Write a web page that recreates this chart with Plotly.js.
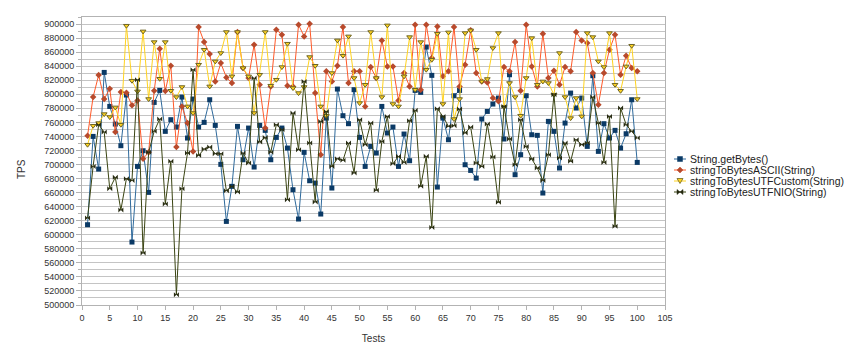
<!DOCTYPE html>
<html><head><meta charset="utf-8">
<script src="https://cdn.plot.ly/plotly-3.0.1.min.js"></script>
<style>html,body{margin:0;padding:0;background:#fff;}#chart{width:847px;height:354px;}</style>
</head><body><div id="chart"></div>
<script>
const tests = [1,2,3,4,5,6,7,8,9,10,11,12,13,14,15,16,17,18,19,20,21,22,23,24,25,26,27,28,29,30,31,32,33,34,35,36,37,38,39,40,41,42,43,44,45,46,47,48,49,50,51,52,53,54,55,56,57,58,59,60,61,62,63,64,65,66,67,68,69,70,71,72,73,74,75,76,77,78,79,80,81,82,83,84,85,86,87,88,89,90,91,92,93,94,95,96,97,98,99,100];

const getBytes = [614300,740000,693500,831100,782700,757600,726800,798900,589600,697300,
719600,660300,788400,805500,747200,763800,753300,796000,737700,793200,
753300,760000,792200,755700,700200,619000,668900,754300,706800,751900,
696400,755700,748600,706800,738600,751900,723400,664100,622400,717300,
676900,673600,629500,766100,666500,807400,769500,758100,806500,738600,
697300,725800,716300,782700,744800,753300,697300,743400,705400,805500,
802700,867200,826900,667900,766100,735300,797900,805500,699700,691600,
680700,764700,775600,786100,794600,736300,827800,685500,714000,797900,
742400,741500,659400,761400,747200,695000,759000,801700,780400,794600,
725800,826400,718700,758100,737700,748600,723400,743800,792200,703000];

const ascii = [741000,796000,827400,793200,807900,746200,803200,802000,784200,791300,
708300,717300,805000,864800,804600,840600,724900,782700,759000,718700,
895700,874300,857200,818300,844400,824000,816000,888600,837300,823100,
870500,813600,751900,811200,891900,884800,812200,811200,899000,882400,
900400,801700,714000,832600,818300,840600,895700,816000,832600,832600,
782700,838700,823100,876700,839700,839700,791300,830200,811200,899000,
806500,899000,851600,896600,825500,832600,895700,811200,842100,891000,
830200,818300,816900,794600,789900,838700,832600,874300,805000,899000,
839700,811200,886200,823100,833500,813600,838700,832600,888600,876700,
872900,830200,785100,830200,863400,884800,827800,854900,837300,832600];

const utfCustom = [728200,755200,759000,771800,767600,781300,756700,897600,819300,804100,
889500,793200,874300,822100,874300,805000,796000,810300,782700,773300,
842100,863400,811200,846800,858700,888600,825500,888600,837300,825500,
773300,827800,888600,812200,820700,838700,872000,808900,801700,810300,
853000,840600,782700,769500,830200,876700,854900,882400,823100,787500,
813600,888600,823100,796000,898100,786100,782700,825500,881400,806500,
874300,835000,849200,886200,786100,888100,764700,793200,887100,891000,
863400,818300,821700,865800,887100,781800,816000,796000,769500,823100,
880000,813600,818300,816000,799400,858700,796000,766100,794600,768500,
887100,881400,846800,838700,887100,813600,805000,839700,869100,793200];

const utfNIO = [623800,697300,756700,746200,665500,681700,635200,679800,677400,820700,
573900,717300,747200,764700,643700,704500,514700,665500,716300,835000,
713000,722000,724900,715400,715400,662700,668900,660800,716300,702100,
823100,732000,738600,717300,756700,749500,649900,773300,721100,818300,
730600,646600,761400,775600,697300,708300,705900,730600,687900,763800,
728200,759000,663200,732900,768500,701100,711600,703000,762400,777100,
668900,711600,610500,779400,768500,754300,755200,779000,744800,753300,
702100,697300,757600,710600,646100,782700,736300,699700,763800,725800,
707800,695000,677400,714000,799400,709200,730600,704500,735300,728200,
730600,796000,759000,703000,768500,612000,780400,756700,747200,737700];

const seriesNames = ['String.getBytes()','stringToBytesASCII(String)','stringToBytesUTFCustom(String)','stringToBytesUTFNIO(String)'];
const yTickVals = [500000,520000,540000,560000,580000,600000,620000,640000,660000,680000,700000,720000,740000,760000,780000,800000,820000,840000,860000,880000,900000];

const W = 847, H = 354, M = {l: 82, r: 182, t: 17, b: 49};
const pw = W - M.l - M.r, ph = H - M.t - M.b;
const PX = p => (p - M.l) / pw;
const PY = p => (M.t + ph - p) / ph;

const styles = [
  {line:'#2f6a9c', mk:'#0b3a66', sym:'square', mline:null},
  {line:'#ff5a2a', mk:'#b84a2c', sym:'diamond', mline:null},
  {line:'#ffd320', mk:'#ffd320', sym:'triangle-down', mline:'#6d6424'},
  {line:'#3a4412', mk:'#262a10', sym:'bowtie', mline:null}
];
const dataSets = [getBytes, ascii, utfCustom, utfNIO];

const traces = dataSets.map((d, k) => ({
  x: tests, y: d, name: seriesNames[k], type: 'scatter', mode: 'lines+markers',
  line: {color: styles[k].line, width: 1},
  marker: {symbol: styles[k].sym, size: 5, color: styles[k].mk,
           line: styles[k].mline ? {color: styles[k].mline, width: 1} : {width: 0}}
}));

// custom compact legend
const shapes = [], annotations = [];
const rowY = [159, 170, 181, 192];
const symX = 680;
function path(pts) { return 'M' + pts.map(p => PX(p[0]) + ',' + PY(p[1])).join(' L') + ' Z'; }
rowY.forEach((y, k) => {
  const s = styles[k];
  shapes.push({type:'line', xref:'paper', yref:'paper', x0: PX(674), x1: PX(686), y0: PY(y), y1: PY(y), line:{color: s.line, width:1}});
  let p;
  if (k === 0) p = path([[symX-2.5,y-2.5],[symX+2.5,y-2.5],[symX+2.5,y+2.5],[symX-2.5,y+2.5]]);
  if (k === 1) p = path([[symX,y-3],[symX+3,y],[symX,y+3],[symX-3,y]]);
  if (k === 2) p = path([[symX-3,y-2.5],[symX+3,y-2.5],[symX,y+2.5]]);
  if (k === 3) p = path([[symX-3,y-2.5],[symX,y],[symX-3,y+2.5]]) + ' ' + path([[symX+3,y-2.5],[symX,y],[symX+3,y+2.5]]);
  shapes.push({type:'path', xref:'paper', yref:'paper', path: p, fillcolor: s.mk,
               line:{color: s.mline || s.mk, width: s.mline ? 0.8 : 0.5}});
  annotations.push({xref:'paper', yref:'paper', x: PX(688), y: PY(y), xanchor:'left', yanchor:'middle',
                    text: seriesNames[k], showarrow:false, font:{size:10.5, color:'#222222'}});
});
annotations.push({xref:'paper', yref:'paper', x: PX(21), y: PY(169), xanchor:'center', yanchor:'middle',
                  text:'TPS', textangle:-90, showarrow:false, font:{size:10, color:'#333333'}});

const layout = {
  width: W, height: H,
  margin: {l: M.l, r: M.r, t: M.t, b: M.b, pad: 0},
  paper_bgcolor: '#ffffff', plot_bgcolor: '#ffffff',
  font: {family: 'Liberation Sans, Arial, sans-serif', size: 9, color: '#333333'},
  showlegend: false,
  shapes: shapes, annotations: annotations,
  xaxis: {range: [0, 105], dtick: 5, tick0: 0, showgrid: false, zeroline: false,
          showline: true, linecolor: '#b3b3b3', linewidth: 1, mirror: true,
          ticks: 'outside', ticklen: 4, tickcolor: '#b3b3b3',
          title: {text: 'Tests', font: {size: 10, color: '#333333'}, standoff: 13},
          tickfont: {size: 9, color: '#333333'}},
  yaxis: {range: [500000, 910000], tickmode: 'array', tickvals: yTickVals, tickformat: 'd',
          showgrid: true, gridcolor: '#c4c4c4', gridwidth: 1, zeroline: false,
          showline: true, linecolor: '#b3b3b3', linewidth: 1, mirror: true,
          ticks: 'outside', ticklen: 5, tickcolor: '#b3b3b3',
          minor: {dtick: 10000, tick0: 500000, showgrid: true, gridcolor: '#c4c4c4', gridwidth: 1, ticks: 'outside', ticklen: 3, tickcolor: '#b3b3b3'},
          tickfont: {size: 9, color: '#333333'}}
};

Plotly.newPlot('chart', traces, layout, {displayModeBar: false, staticPlot: true});
</script>
</body></html>
